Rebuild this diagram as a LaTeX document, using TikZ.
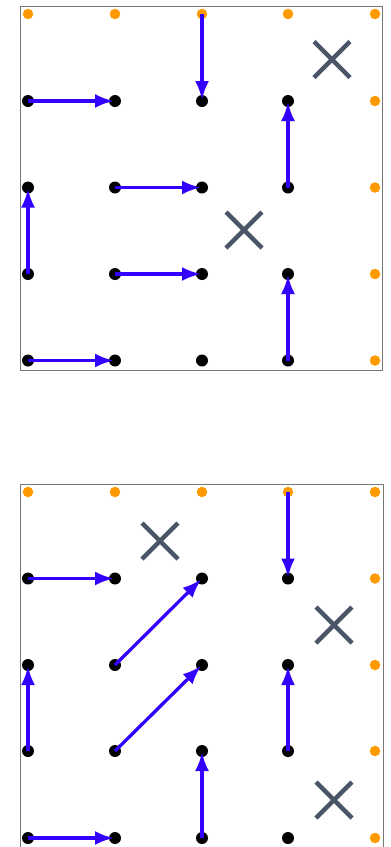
\documentclass[tikz,border=0pt]{standalone}
\usetikzlibrary{arrows.meta}
\definecolor{dotorange}{RGB}{255,153,0}
\definecolor{arrowblue}{RGB}{51,0,255}
\definecolor{crossgray}{RGB}{74,85,104}
\definecolor{framegray}{RGB}{120,120,120}
\begin{document}
\begin{tikzpicture}[x=1pt,y=-1pt,
  panelframe/.style={draw=framegray,line width=1pt},
  bdot/.style={circle,fill=black,inner sep=0pt,minimum size=12pt},
  odot/.style={circle,fill=dotorange,inner sep=0pt,minimum size=10.5pt},
  move/.style={draw=arrowblue,line width=3.3pt,-{Latex[length=19pt,width=14pt]},shorten >=1pt},
  xmark/.style={draw=crossgray,line width=4.5pt}]
\useasboundingbox (0,0) rectangle (391,847);
% frames
\draw[panelframe] (20,6) rectangle (382.5,370.5);
\draw[panelframe] (20,852) -- (20,484) -- (383,484) -- (383,852);
% top panel dots
\foreach \i/\x in {0/28,1/115,2/202,3/288,4/375}{
  \foreach \j/\y in {0/14,1/101,2/187.5,3/274,4/360.5}{
    \ifnum\i=4 \def\st{odot}\else\ifnum\j=0 \def\st{odot}\else\def\st{bdot}\fi\fi
    \node[\st] (t-\i-\j) at (\x,\y) {};
  }
}
% bottom panel dots
\foreach \i/\x in {0/28,1/115,2/202,3/288,4/375}{
  \foreach \j/\y in {0/492,1/578.5,2/665,3/751,4/838}{
    \ifnum\i=4 \def\st{odot}\else\ifnum\j=0 \def\st{odot}\else\def\st{bdot}\fi\fi
    \node[\st] (b-\i-\j) at (\x,\y) {};
  }
}
% top panel arrows
\draw[move] (t-2-0.center) -- (t-2-1.center);
\draw[move] (t-0-1.center) -- (t-1-1.center);
\draw[move] (t-1-2.center) -- (t-2-2.center);
\draw[move] (t-3-2.center) -- (t-3-1.center);
\draw[move] (t-0-3.center) -- (t-0-2.center);
\draw[move] (t-1-3.center) -- (t-2-3.center);
\draw[move] (t-3-4.center) -- (t-3-3.center);
\draw[move] (t-0-4.center) -- (t-1-4.center);
% bottom panel arrows
\draw[move] (b-0-1.center) -- (b-1-1.center);
\draw[move] (b-3-0.center) -- (b-3-1.center);
\draw[move] (b-1-2.center) -- (b-2-1.center);
\draw[move] (b-1-3.center) -- (b-2-2.center);
\draw[move] (b-0-3.center) -- (b-0-2.center);
\draw[move] (b-3-3.center) -- (b-3-2.center);
\draw[move] (b-2-4.center) -- (b-2-3.center);
\draw[move] (b-0-4.center) -- (b-1-4.center);
% crosses
\foreach \n/\cx/\cy in {x1/332/59.5, x2/244/230, x3/160/541, x4/334/625, x5/334/800}{
  \coordinate (\n) at (\cx,\cy);
  \draw[xmark] ([shift={(-18,-18)}]\n) -- ([shift={(18,18)}]\n);
  \draw[xmark] ([shift={(-18,18)}]\n) -- ([shift={(18,-18)}]\n);
}
\end{tikzpicture}
\end{document}
